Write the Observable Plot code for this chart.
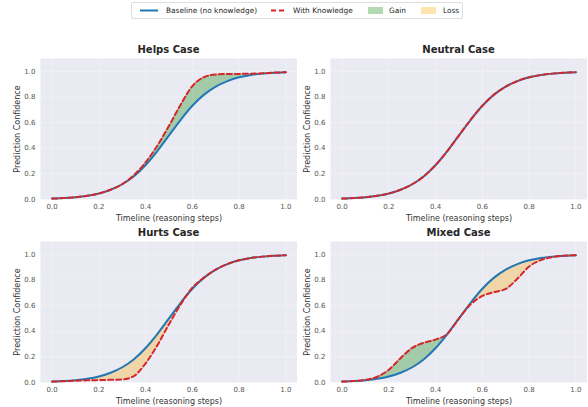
<!DOCTYPE html>
<html><head><meta charset="utf-8">
<script src="https://cdn.jsdelivr.net/npm/d3@7"></script>
<script src="https://cdn.jsdelivr.net/npm/@observablehq/plot@0.6"></script>
<style>
body{margin:0;background:#fff;font-family:"DejaVu Sans",sans-serif;}
#root{position:relative;width:588px;height:407px;overflow:hidden;}
.title{position:absolute;width:257px;text-align:center;font-weight:bold;font-size:10px;color:#262626;}
.legend{position:absolute;left:131px;top:2px;width:330px;height:15px;border:1px solid #ddd;border-radius:2px;background:#fff;font-size:7.4px;color:#262626;}
.legend span{position:absolute;top:3px;}
.pane{position:absolute;}
.pane [aria-label="x-axis label"] text, .pane [aria-label="y-axis label"] text {font-size:8px;fill:#333;}
.pane [aria-label="x-axis tick label"] text, .pane [aria-label="y-axis tick label"] text {fill:#555;}
</style></head>
<body><div id="root"></div>
<script>
const steps = [0,0.05,0.1,0.15,0.2,0.25,0.3,0.35,0.4,0.45,0.5,0.55,0.6,0.65,0.7,0.75,0.8,0.85,0.9,0.95,1.0];
const baseline = [0.007,0.011,0.018,0.029,0.047,0.076,0.119,0.182,0.269,0.378,0.5,0.622,0.731,0.818,0.881,0.924,0.953,0.971,0.982,0.989,0.993];
const helpsKnow = [0.007,0.011,0.018,0.029,0.047,0.076,0.12,0.19,0.29,0.42,0.575,0.74,0.885,0.955,0.976,0.98,0.98,0.981,0.985,0.99,0.993];
const neutralKnow = [0.007,0.011,0.018,0.029,0.047,0.076,0.119,0.182,0.269,0.378,0.5,0.622,0.731,0.818,0.881,0.924,0.953,0.971,0.982,0.989,0.993];
const hurtsKnow = [0.007,0.01,0.014,0.017,0.019,0.021,0.024,0.05,0.15,0.29,0.455,0.61,0.74,0.818,0.881,0.924,0.953,0.971,0.982,0.989,0.993];
const mixedKnow = [0.007,0.011,0.02,0.045,0.1,0.19,0.27,0.31,0.335,0.38,0.5,0.61,0.675,0.705,0.73,0.81,0.905,0.955,0.978,0.989,0.993];
const panelTitles = ["Helps Case","Neutral Case","Hurts Case","Mixed Case"];
const axisTicks = [0,0.2,0.4,0.6,0.8,1.0];

const series = [helpsKnow, neutralKnow, hurtsKnow, mixedKnow];
const pos = [[0,42],[290,42],[0,225],[290,225]];
const root = document.getElementById("root");

// legend
const leg = document.createElement("div");
leg.className = "legend";
leg.innerHTML = `
<svg width="330" height="15" style="position:absolute;left:0;top:0">
<line x1="8" x2="26" y1="7.5" y2="7.5" stroke="#1f77b4" stroke-width="2"/>
<line x1="139" x2="153" y1="7.5" y2="7.5" stroke="#d62728" stroke-width="2" stroke-dasharray="5,3"/>
<rect x="236" y="4" width="15" height="7" fill="green" fill-opacity="0.3"/>
<rect x="289" y="4" width="15" height="7" fill="orange" fill-opacity="0.3"/>
</svg>
<span style="left:34px">Baseline (no knowledge)</span>
<span style="left:161px">With Knowledge</span>
<span style="left:257px">Gain</span>
<span style="left:311px">Loss</span>`;
root.appendChild(leg);

series.forEach((know, i) => {
  const data = steps.map((x, j) => ({x, b: baseline[j], k: know[j]}));
  const [left, top] = pos[i];
  const chart = Plot.plot({
    width: 297, height: 181,
    marginLeft: 40, marginRight: 0, marginTop: 16, marginBottom: 24,
    style: {fontFamily: "DejaVu Sans, sans-serif", fontSize: "7px", color: "#262626", background: "transparent"},
    x: {domain: [-0.05, 1.05], ticks: axisTicks, tickFormat: d3.format(".1f"), tickSize: 0, tickPadding: 5,
        label: "Timeline (reasoning steps)", labelAnchor: "center", labelArrow: "none", labelOffset: 21},
    y: {domain: [0, 1.1], ticks: axisTicks, tickFormat: d3.format(".1f"), tickSize: 0, tickPadding: 5,
        label: "Prediction Confidence", labelAnchor: "center", labelArrow: "none", labelOffset: 26},
    marks: [
      Plot.frame({fill: "#EAEAF2", stroke: null}),
      Plot.gridX(axisTicks, {stroke: "white", strokeOpacity: 0.5, strokeWidth: 0.6}),
      Plot.gridY(axisTicks, {stroke: "white", strokeOpacity: 0.5, strokeWidth: 0.6}),
      Plot.areaY(data, {x: "x", y1: "b", y2: d => Math.max(d.b, d.k), fill: "green", fillOpacity: 0.3, curve: "monotone-x"}),
      Plot.areaY(data, {x: "x", y1: d => Math.min(d.b, d.k), y2: "b", fill: "orange", fillOpacity: 0.3, curve: "monotone-x"}),
      Plot.lineY(data, {x: "x", y: "b", stroke: "#1f77b4", strokeWidth: 2, curve: "monotone-x"}),
      Plot.lineY(data, {x: "x", y: "k", stroke: "#d62728", strokeWidth: 2, strokeDasharray: "5,3", curve: "monotone-x"})
    ]
  });
  chart.classList.add("pane");
  chart.style.left = left + "px";
  chart.style.top = top + "px";
  root.appendChild(chart);
  const t = document.createElement("div");
  t.className = "title";
  t.textContent = panelTitles[i];
  t.style.left = (left + 40) + "px";
  t.style.top = (top + 2) + "px";
  root.appendChild(t);
});
</script></body></html>
